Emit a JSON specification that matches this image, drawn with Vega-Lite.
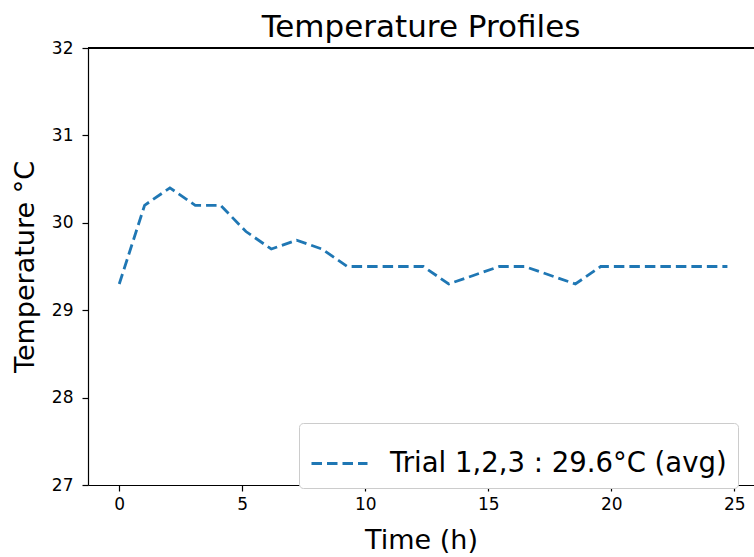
{
  "$schema": "https://vega.github.io/schema/vega-lite/v6.json",
  "width": 666,
  "height": 437,
  "autosize": {"type": "none"},
  "padding": {"left": 88, "top": 48, "right": 0, "bottom": 72},
  "background": "white",
  "title": {
    "text": "Temperature Profiles",
    "font": "DejaVu Sans",
    "fontSize": 31,
    "fontWeight": "normal",
    "color": "black",
    "anchor": "middle",
    "baseline": "alphabetic",
    "offset": -29
  },
  "config": {
    "view": {"stroke": null},
    "font": "DejaVu Sans",
    "axis": {
      "grid": false,
      "domainColor": "black",
      "domainWidth": 1.2,
      "tickColor": "black",
      "tickWidth": 1.2,
      "tickSize": 6,
      "labelColor": "black",
      "labelFont": "DejaVu Sans",
      "labelFontSize": 17,
      "titleColor": "black",
      "titleFont": "DejaVu Sans",
      "titleFontSize": 27,
      "titleFontWeight": "normal",
      "labelFlush": false
    }
  },
  "data": {
    "values": [
      {"time": 0, "temp": 29.3, "series": "Trial 1,2,3 : 29.6°C (avg)"},
      {"time": 1.03, "temp": 30.2, "series": "Trial 1,2,3 : 29.6°C (avg)"},
      {"time": 2.06, "temp": 30.4, "series": "Trial 1,2,3 : 29.6°C (avg)"},
      {"time": 3.09, "temp": 30.2, "series": "Trial 1,2,3 : 29.6°C (avg)"},
      {"time": 4.12, "temp": 30.2, "series": "Trial 1,2,3 : 29.6°C (avg)"},
      {"time": 5.15, "temp": 29.9, "series": "Trial 1,2,3 : 29.6°C (avg)"},
      {"time": 6.18, "temp": 29.7, "series": "Trial 1,2,3 : 29.6°C (avg)"},
      {"time": 7.21, "temp": 29.8, "series": "Trial 1,2,3 : 29.6°C (avg)"},
      {"time": 8.24, "temp": 29.7, "series": "Trial 1,2,3 : 29.6°C (avg)"},
      {"time": 9.27, "temp": 29.5, "series": "Trial 1,2,3 : 29.6°C (avg)"},
      {"time": 10.3, "temp": 29.5, "series": "Trial 1,2,3 : 29.6°C (avg)"},
      {"time": 11.33, "temp": 29.5, "series": "Trial 1,2,3 : 29.6°C (avg)"},
      {"time": 12.36, "temp": 29.5, "series": "Trial 1,2,3 : 29.6°C (avg)"},
      {"time": 13.39, "temp": 29.3, "series": "Trial 1,2,3 : 29.6°C (avg)"},
      {"time": 14.42, "temp": 29.4, "series": "Trial 1,2,3 : 29.6°C (avg)"},
      {"time": 15.45, "temp": 29.5, "series": "Trial 1,2,3 : 29.6°C (avg)"},
      {"time": 16.48, "temp": 29.5, "series": "Trial 1,2,3 : 29.6°C (avg)"},
      {"time": 17.51, "temp": 29.4, "series": "Trial 1,2,3 : 29.6°C (avg)"},
      {"time": 18.54, "temp": 29.3, "series": "Trial 1,2,3 : 29.6°C (avg)"},
      {"time": 19.57, "temp": 29.5, "series": "Trial 1,2,3 : 29.6°C (avg)"},
      {"time": 20.6, "temp": 29.5, "series": "Trial 1,2,3 : 29.6°C (avg)"},
      {"time": 21.63, "temp": 29.5, "series": "Trial 1,2,3 : 29.6°C (avg)"},
      {"time": 22.66, "temp": 29.5, "series": "Trial 1,2,3 : 29.6°C (avg)"},
      {"time": 23.69, "temp": 29.5, "series": "Trial 1,2,3 : 29.6°C (avg)"},
      {"time": 24.72, "temp": 29.5, "series": "Trial 1,2,3 : 29.6°C (avg)"}
    ]
  },
  "layer": [
    {
      "mark": {"type": "line", "strokeDash": [10.5, 5], "strokeWidth": 2.8},
      "encoding": {
        "x": {
          "field": "time",
          "type": "quantitative",
          "title": "Time (h)",
          "scale": {"domain": [-1.27, 25.8], "nice": false, "zero": false},
          "axis": {"values": [0, 5, 10, 15, 20, 25], "format": "d", "labelPadding": 5, "titlePadding": 15}
        },
        "y": {
          "field": "temp",
          "type": "quantitative",
          "title": "Temperature °C",
          "scale": {"domain": [27, 32], "nice": false, "zero": false},
          "axis": {"values": [27, 28, 29, 30, 31, 32], "format": "d", "labelPadding": 9, "titlePadding": 12}
        },
        "color": {
          "field": "series",
          "type": "nominal",
          "scale": {"range": ["#1f77b4"]},
          "legend": {
            "title": null,
            "orient": "none",
            "legendX": 211,
            "legendY": 375,
            "symbolType": "stroke",
            "symbolSize": 3136,
            "symbolStrokeWidth": 2.8,
            "symbolDash": [10.5, 5],
            "labelFont": "DejaVu Sans",
            "labelFontSize": 27.5,
            "labelColor": "black",
            "labelOffset": 21,
            "labelLimit": 600,
            "padding": 11,
            "strokeColor": "#cccccc",
            "fillColor": "white",
            "cornerRadius": 4
          }
        }
      }
    },
    {
      "mark": {"type": "rule", "color": "black", "strokeWidth": 1.2},
      "encoding": {"y": {"datum": 32}}
    }
  ]
}
